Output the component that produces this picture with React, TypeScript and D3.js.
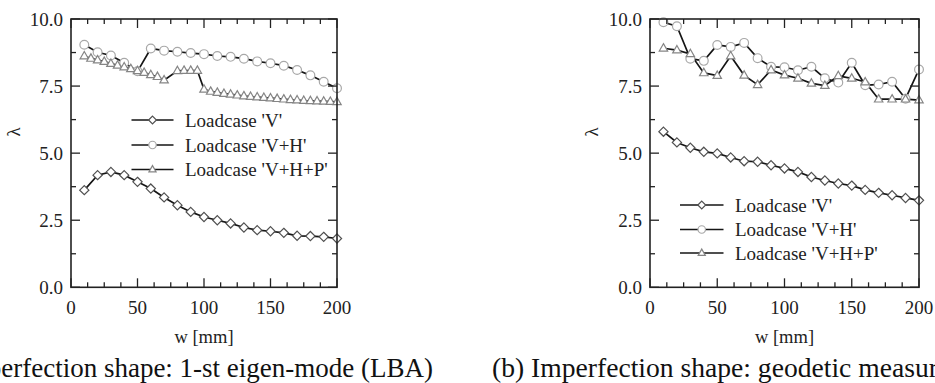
import React, { useRef, useEffect } from 'react';
import * as d3 from 'd3';

// w [mm] positions
const wStep10 = [10, 20, 30, 40, 50, 60, 70, 80, 90, 100, 110, 120, 130, 140, 150, 160, 170, 180, 190, 200];
const wStep5Left = [10, 15, 20, 25, 30, 35, 40, 45, 50, 55, 60, 65, 70, 80, 85, 90, 95, 100, 105, 110, 115, 120,
  125, 130, 135, 140, 145, 150, 155, 160, 165, 170, 175, 180, 185, 190, 195, 200];

// (a) 1-st eigen-mode (LBA)
const lbaV = [3.62, 4.18, 4.30, 4.18, 3.93, 3.68, 3.35, 3.06, 2.81, 2.62, 2.50, 2.38, 2.23, 2.13, 2.09, 2.03, 1.92, 1.91, 1.88, 1.82];
const lbaVH = [9.04, 8.76, 8.64, 8.37, 8.05, 8.90, 8.82, 8.78, 8.73, 8.69, 8.62, 8.59, 8.52, 8.42, 8.35, 8.26, 8.10, 7.90, 7.66, 7.42];
const lbaVHP = [8.62, 8.53, 8.47, 8.41, 8.34, 8.27, 8.21, 8.14, 8.07, 8.00, 7.92, 7.85, 7.72, 8.07, 8.08, 8.08, 8.08,
  7.38, 7.30, 7.26, 7.22, 7.19, 7.16, 7.13, 7.11, 7.09, 7.07, 7.05, 7.03, 7.01, 6.99, 6.98, 6.96, 6.95, 6.94, 6.93, 6.92, 6.91];

// (b) geodetic measurements
const geoV = [5.80, 5.40, 5.20, 5.05, 4.99, 4.84, 4.70, 4.68, 4.55, 4.43, 4.30, 4.11, 3.98, 3.87, 3.79, 3.63, 3.52, 3.43, 3.33, 3.24];
const geoVH = [9.88, 9.73, 8.52, 8.44, 9.03, 8.96, 9.11, 8.54, 8.22, 8.20, 8.09, 8.22, 7.79, 7.63, 8.37, 7.53, 7.56, 7.66, 7.03, 8.12];
const geoVHP = [8.91, 8.84, 8.70, 7.99, 7.89, 8.62, 7.90, 7.55, 8.10, 7.91, 7.79, 7.60, 7.52, 7.88, 7.79, 7.65, 7.01, 7.01, 7.01, 6.98];

const xTicks = [0, 50, 100, 150, 200];
const yTicks = [0, 2.5, 5, 7.5, 10];
const legendLabels = ["Loadcase 'V'", "Loadcase 'V+H'", "Loadcase 'V+H+P'"];

const FONT = 'Liberation Serif, Times New Roman, serif';

const markerPath = {
  diamond: 'M0,-4.6L4.6,0L0,4.6L-4.6,0Z',
  triangle: 'M0,-4.6L4.2,2.8L-4.2,2.8Z',
};

function drawMarker(g, kind, x, y, k = 1) {
  if (kind === 'circle') {
    g.append('circle').attr('cx', x).attr('cy', y).attr('r', 4.4 * k)
      .attr('fill', '#fff').attr('stroke', '#a8a8a8').attr('stroke-width', 1.2);
  } else {
    g.append('path').attr('d', markerPath[kind]).attr('transform', `translate(${x},${y}) scale(${k})`)
      .attr('fill', '#fff').attr('stroke', kind === 'diamond' ? '#505050' : '#858585').attr('stroke-width', 1.2 / k);
  }
}

function drawPanel(svg, opts) {
  const { x0, x1, series, legend } = opts;
  const xScale = d3.scaleLinear().domain([0, 200]).range([x0, x1]);
  const yScale = d3.scaleLinear().domain([0, 10]).range([287.3, 19]);
  const top = yScale(10);
  const bottom = yScale(0);

  const g = svg.append('g');

  // series lines first, markers on top
  series.forEach(s => {
    const line = d3.line().x(d => xScale(d[0])).y(d => yScale(d[1]));
    const pts = s.xs.map((x, i) => [x, s.ys[i]]);
    g.append('path').attr('d', line(pts)).attr('fill', 'none')
      .attr('stroke', '#151515').attr('stroke-width', 1.7);
  });
  series.forEach(s => {
    s.xs.forEach((x, i) => drawMarker(g, s.marker, xScale(x), yScale(s.ys[i])));
  });

  // frame + inward ticks on all sides
  const minorX = d3.range(0, 200.01, 12.5);
  const minorY = d3.range(0, 10.01, 1.25);
  const tick = g.append('g').attr('stroke', '#222').attr('stroke-width', 1.3);
  minorX.forEach(v => {
    const len = xTicks.includes(v) ? 9 : 5;
    tick.append('line').attr('x1', xScale(v)).attr('x2', xScale(v)).attr('y1', bottom).attr('y2', bottom - len);
    tick.append('line').attr('x1', xScale(v)).attr('x2', xScale(v)).attr('y1', top).attr('y2', top + len);
  });
  minorY.forEach(v => {
    const len = yTicks.includes(v) ? 9 : 5;
    tick.append('line').attr('y1', yScale(v)).attr('y2', yScale(v)).attr('x1', x0).attr('x2', x0 + len);
    tick.append('line').attr('y1', yScale(v)).attr('y2', yScale(v)).attr('x1', x1).attr('x2', x1 - len);
  });
  g.append('rect').attr('x', x0).attr('y', top).attr('width', x1 - x0).attr('height', bottom - top)
    .attr('fill', 'none').attr('stroke', '#222').attr('stroke-width', 1.6);

  // tick labels
  const labels = g.append('g').attr('font-family', FONT).attr('font-size', 19).attr('fill', '#222');
  xTicks.forEach(v => {
    labels.append('text').attr('x', xScale(v)).attr('y', 313.5).attr('text-anchor', 'middle').text(v);
  });
  yTicks.forEach(v => {
    labels.append('text').attr('x', x0 - 8).attr('y', yScale(v)).attr('dy', '0.35em')
      .attr('text-anchor', 'end').text(v.toFixed(1));
  });

  // axis titles
  labels.append('text').attr('x', (x0 + x1) / 2).attr('y', 343).attr('text-anchor', 'middle')
    .attr('font-size', 18.5).text('w [mm]');
  labels.append('text').attr('transform', `translate(${opts.lambdaX},132) rotate(-90)`)
    .attr('text-anchor', 'middle').attr('dy', '0.35em').attr('font-size', 19).text('λ');

  // legend
  const lg = g.append('g');
  series.forEach((s, i) => {
    const y = legend.rows[i];
    lg.append('line').attr('x1', legend.lineX[0]).attr('x2', legend.lineX[1]).attr('y1', y).attr('y2', y)
      .attr('stroke', '#151515').attr('stroke-width', 1.7);
    drawMarker(lg, s.marker, (legend.lineX[0] + legend.lineX[1]) / 2, y, 0.85);
    lg.append('text').attr('x', legend.textX).attr('y', y).attr('dy', '0.35em')
      .attr('font-family', FONT).attr('font-size', 19).attr('fill', '#222').text(legendLabels[i]);
  });
}

function App() {
  const svgRef = useRef(null);

  useEffect(() => {
    const svg = d3.select(svgRef.current);
    svg.selectAll('*').remove();

    drawPanel(svg, {
      x0: 71, x1: 337, lambdaX: 13,
      series: [
        { xs: wStep10, ys: lbaV, marker: 'diamond' },
        { xs: wStep10, ys: lbaVH, marker: 'circle' },
        { xs: wStep5Left, ys: lbaVHP, marker: 'triangle' },
      ],
      legend: { lineX: [131.5, 173.5], textX: 185, rows: [120, 145, 169.5] },
    });

    drawPanel(svg, {
      x0: 650, x1: 919, lambdaX: 591,
      series: [
        { xs: wStep10, ys: geoV, marker: 'diamond' },
        { xs: wStep10, ys: geoVH, marker: 'circle' },
        { xs: wStep10, ys: geoVHP, marker: 'triangle' },
      ],
      legend: { lineX: [680, 723.5], textX: 735, rows: [205, 229.5, 253] },
    });

    // captions (cut at the page edges, as in the source figure)
    svg.append('text').attr('x', -79).attr('y', 377).attr('font-family', FONT).attr('font-size', 27)
      .attr('fill', '#111').text('(a) Imperfection shape: 1-st eigen-mode (LBA)');
    svg.append('text').attr('x', 492).attr('y', 377).attr('font-family', FONT).attr('font-size', 27.6)
      .attr('fill', '#111').text('(b) Imperfection shape: geodetic measurements');
  }, []);

  return (
    <svg
      ref={svgRef}
      width={935}
      height={383}
      style={{ position: 'absolute', left: 0, top: 0, background: '#fff' }}
    />
  );
}

export default App;
